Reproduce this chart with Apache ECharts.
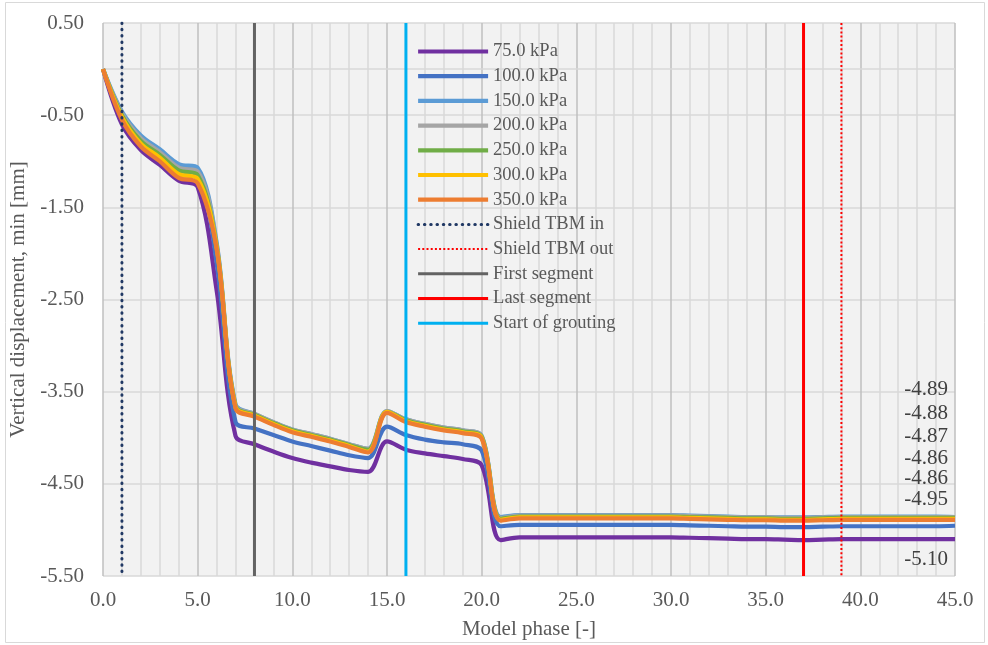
<!DOCTYPE html>
<html><head><meta charset="utf-8">
<script src="https://cdn.jsdelivr.net/npm/echarts@6/dist/echarts.min.js"></script>
<style>html,body{margin:0;padding:0;background:#fff}#c{width:988px;height:645px}</style>
</head><body><div id="c"></div>
<script>
const phases = [0,1,2,3,4,5,6,7,8,9,10,11,12,13,14,15,16,17,18,19,20,21,22,23,24,25,26,27,28,29,30,31,32,33,34,35,36,37,38,39,40,41,42,43,44,45];
const seriesNames = ['75.0 kPa','100.0 kPa','150.0 kPa','200.0 kPa','250.0 kPa','300.0 kPa','350.0 kPa'];
const p75  = [0.00,-0.60,-0.88,-1.04,-1.21,-1.28,-2.40,-3.98,-4.07,-4.15,-4.22,-4.27,-4.31,-4.35,-4.37,-4.04,-4.13,-4.17,-4.20,-4.23,-4.30,-5.11,
  -5.08,-5.08,-5.08,-5.08,-5.08,-5.08,-5.08,-5.08,-5.08,-5.085,-5.09,-5.095,-5.10,-5.10,-5.105,-5.11,-5.105,-5.10,-5.10,-5.10,-5.10,-5.10,-5.10,-5.10];
const p100 = [0.00,-0.49,-0.75,-0.90,-1.06,-1.11,-2.10,-3.83,-3.90,-3.97,-4.04,-4.09,-4.14,-4.19,-4.22,-3.88,-3.97,-4.02,-4.05,-4.07,-4.14,-4.96,
  -4.945,-4.945,-4.945,-4.945,-4.945,-4.945,-4.945,-4.945,-4.945,-4.95,-4.955,-4.96,-4.965,-4.965,-4.97,-4.97,-4.965,-4.96,-4.96,-4.96,-4.96,-4.96,-4.96,-4.955];
const p150 = [0.00,-0.46,-0.72,-0.87,-1.03,-1.07,-1.88,-3.64,-3.74,-3.83,-3.91,-3.96,-4.01,-4.07,-4.12,-3.71,-3.80,-3.85,-3.89,-3.92,-3.98,-4.86,
  -4.84,-4.84,-4.84,-4.84,-4.84,-4.84,-4.84,-4.84,-4.84,-4.845,-4.85,-4.855,-4.86,-4.86,-4.865,-4.865,-4.86,-4.855,-4.855,-4.855,-4.855,-4.855,-4.855,-4.86];
const p200 = [0.00,-0.48,-0.75,-0.90,-1.07,-1.11,-1.90,-3.65,-3.74,-3.83,-3.91,-3.96,-4.01,-4.07,-4.12,-3.71,-3.80,-3.85,-3.89,-3.92,-3.98,-4.87,
  -4.845,-4.845,-4.845,-4.845,-4.845,-4.845,-4.845,-4.845,-4.845,-4.85,-4.855,-4.86,-4.865,-4.865,-4.87,-4.87,-4.865,-4.86,-4.86,-4.86,-4.86,-4.86,-4.86,-4.86];
const p250 = [0.00,-0.50,-0.78,-0.93,-1.10,-1.15,-1.92,-3.66,-3.75,-3.84,-3.92,-3.97,-4.02,-4.08,-4.13,-3.72,-3.81,-3.86,-3.90,-3.93,-3.99,-4.88,
  -4.855,-4.855,-4.855,-4.855,-4.855,-4.855,-4.855,-4.855,-4.855,-4.86,-4.865,-4.87,-4.875,-4.875,-4.88,-4.88,-4.875,-4.87,-4.87,-4.87,-4.87,-4.87,-4.87,-4.87];
const p300 = [0.00,-0.52,-0.81,-0.96,-1.14,-1.19,-1.93,-3.67,-3.76,-3.85,-3.93,-3.98,-4.03,-4.09,-4.15,-3.72,-3.82,-3.87,-3.91,-3.94,-4.00,-4.89,
  -4.865,-4.865,-4.865,-4.865,-4.865,-4.865,-4.865,-4.865,-4.865,-4.87,-4.875,-4.88,-4.885,-4.885,-4.89,-4.89,-4.885,-4.88,-4.88,-4.88,-4.88,-4.88,-4.88,-4.88];
const p350 = [0.00,-0.55,-0.84,-1.00,-1.18,-1.24,-1.95,-3.68,-3.77,-3.86,-3.94,-3.99,-4.04,-4.10,-4.16,-3.73,-3.83,-3.88,-3.92,-3.95,-4.01,-4.90,
  -4.875,-4.875,-4.875,-4.875,-4.875,-4.875,-4.875,-4.875,-4.875,-4.88,-4.885,-4.89,-4.895,-4.895,-4.90,-4.90,-4.895,-4.89,-4.89,-4.89,-4.89,-4.89,-4.89,-4.89];
const seriesValues = [p75,p100,p150,p200,p250,p300,p350];
const seriesColors = ['#7030a0','#4472c4','#5b9bd5','#a5a5a5','#70ad47','#ffc000','#ed7d31'];
const markerNames = ['Shield TBM in','Shield TBM out','First segment','Last segment','Start of grouting'];
const markerPhases = [1,39,8,37,16];
const finalLabels = ['-4.89','-4.88','-4.87','-4.86','-4.86','-4.95','-5.10'];
const finalLabelY = [389,413,436,458,478,499,559];
const yMin = -5.5, yMax = 0.5;

const font = 'Liberation Serif';
const txt = '#595959';
const markerStyles = [
  {color:'#203864', width:3, type:[0.5,5.8], cap:'round'},
  {color:'#ff0000', width:2, type:[2,2.2], cap:'butt'},
  {color:'#636363', width:3, type:'solid'},
  {color:'#ff0000', width:3, type:'solid'},
  {color:'#00b0f0', width:3, type:'solid'}
];

const series = [{
  name:'zero', type:'line', silent:true, symbol:'none', z:1,
  data:[[0,0],[45,0]], lineStyle:{color:'#d9d9d9', width:1.5}
}];
seriesNames.forEach((n,i)=>{
  series.push({
    name:n, type:'line', symbol:'none', smooth:0.35,
    data: phases.map((p,k)=>[p, seriesValues[i][k]]),
    lineStyle:{color:seriesColors[i], width:4.2},
    itemStyle:{color:seriesColors[i]}, z:3
  });
});
markerNames.forEach((n,i)=>{
  series.push({
    name:n, type:'line', symbol:'none', z:4,
    data:[[markerPhases[i], yMax],[markerPhases[i], yMin]],
    lineStyle:markerStyles[i], itemStyle:{color:markerStyles[i].color}
  });
});

const graphics = [{
  type:'rect', shape:{x:5.5, y:2.5, width:979, height:640},
  style:{fill:'none', stroke:'#d9d9d9', lineWidth:1}, silent:true, z:-10
}];
finalLabels.forEach((t,i)=>{
  graphics.push({type:'text', x:948, y:finalLabelY[i], z:100,
    style:{text:t, font:'21px "'+font+'"', fill:'#404040', textAlign:'right', textVerticalAlign:'middle'}});
});

const chart = echarts.init(document.getElementById('c'), null, {renderer:'canvas'});
chart.setOption({
  animation:false,
  backgroundColor:'#ffffff',
  textStyle:{fontFamily:font},
  grid:{left:103, right:33, top:23, bottom:67, show:true, backgroundColor:'#f2f2f2', borderWidth:0},
  legend:{
    data: seriesNames.concat(markerNames),
    orient:'vertical', left:416, top:42, padding:0, itemWidth:70, itemHeight:14, itemGap:5.7,
    itemStyle:{opacity:0},
    lineStyle:{width:'inherit'},
    textStyle:{fontFamily:font, fontSize:18.5, lineHeight:18, color:txt, padding:[0,0,0,0]},
    backgroundColor:'transparent'
  },
  xAxis:{
    type:'value', min:0, max:45, interval:5,
    name:'Model phase [-]', nameLocation:'middle', nameGap:43,
    nameTextStyle:{fontFamily:font, fontSize:21, color:txt},
    axisLine:{show:false}, axisTick:{show:false},
    axisLabel:{fontFamily:font, fontSize:21, color:txt, margin:14, formatter:v=>v.toFixed(1)},
    splitLine:{show:true, lineStyle:{color:'#bfbfbf', width:1.5}},
    minorTick:{show:false, splitNumber:5},
    minorSplitLine:{show:true, lineStyle:{color:'#d9d9d9', width:1.5}}
  },
  yAxis:{
    type:'value', min:yMin, max:yMax, interval:1,
    name:'Vertical displacement, min [mm]', nameLocation:'middle', nameGap:69, nameRotate:90,
    nameTextStyle:{fontFamily:font, fontSize:21, color:txt},
    axisLine:{show:false}, axisTick:{show:false},
    axisLabel:{fontFamily:font, fontSize:21, color:txt, margin:19, formatter:v=>v.toFixed(2)},
    splitLine:{show:true, lineStyle:{color:'#d9d9d9', width:1.5}}
  },
  graphic:graphics,
  series:series
});
</script></body></html>
